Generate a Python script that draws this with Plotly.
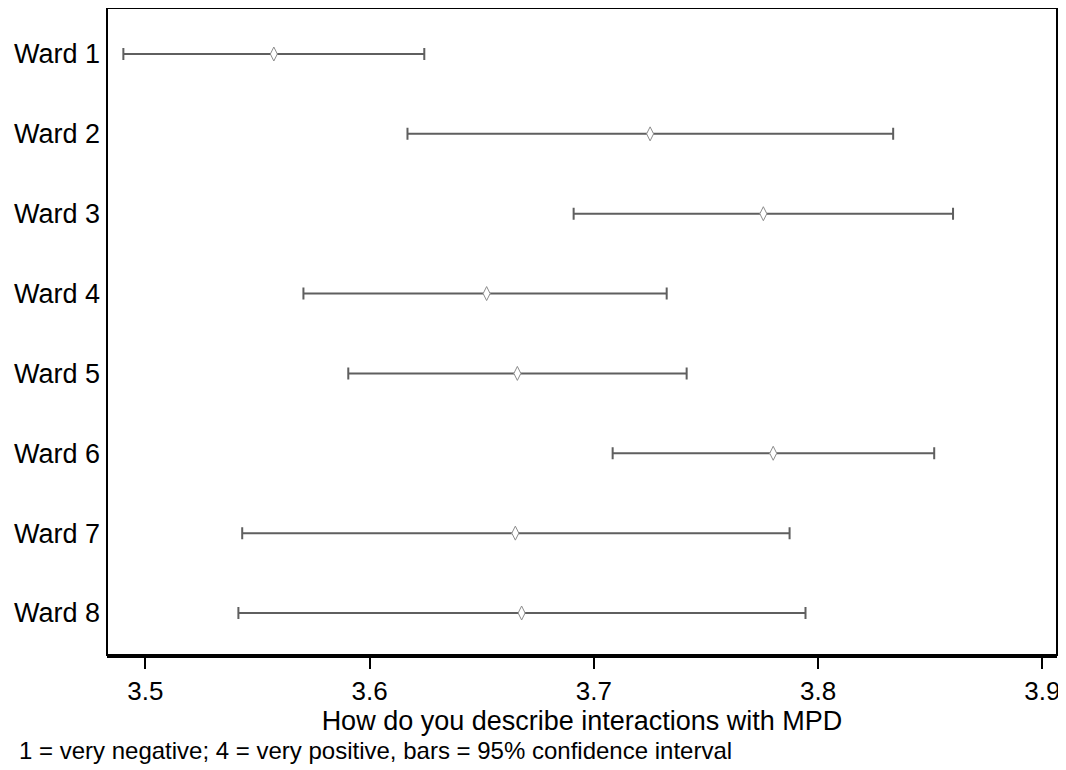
import plotly.graph_objects as go

wards = ["Ward 1", "Ward 2", "Ward 3", "Ward 4", "Ward 5", "Ward 6", "Ward 7", "Ward 8"]
means = [3.5573, 3.7251, 3.7756, 3.6522, 3.6659, 3.7800, 3.6650, 3.6678]
lower = [3.4902, 3.6169, 3.6910, 3.5705, 3.5905, 3.7084, 3.5432, 3.5415]
upper = [3.6244, 3.8335, 3.8602, 3.7325, 3.7414, 3.8518, 3.7873, 3.7944]
x_ticks = [3.5, 3.6, 3.7, 3.8, 3.9]
x_title = "How do you describe interactions with MPD"
note = "1 = very negative; 4 = very positive, bars = 95% confidence interval"

ypos = list(range(1, len(wards) + 1))
err_plus = [u - m for u, m in zip(upper, means)]
err_minus = [m - l for m, l in zip(means, lower)]

FONT = "Liberation Sans, Arial, sans-serif"

fig = go.Figure()
fig.add_trace(go.Scatter(
    x=means, y=ypos, mode="markers",
    marker=dict(symbol="diamond-tall", size=10, color="white",
                line=dict(color="#8c8c8c", width=1)),
    error_x=dict(type="data", symmetric=False, array=err_plus, arrayminus=err_minus,
                 color="#5f5f5f", thickness=2, width=6),
    showlegend=False, hoverinfo="skip",
))

# page body has an 8px default margin, so the figure is sized to fit the window
fig.update_layout(
    width=1058, height=762,
    margin=dict(l=99, r=9, t=0, b=115),
    paper_bgcolor="white", plot_bgcolor="white",
    font=dict(family=FONT, color="black"),
    xaxis=dict(
        range=[3.4829, 3.90656], tickvals=x_ticks,
        ticktext=[f"{v:.1f}" for v in x_ticks],
        ticks="outside", ticklen=11, tickwidth=2, tickcolor="black",
        tickfont=dict(size=26), showgrid=False, zeroline=False,
        showline=True, linecolor="black", linewidth=3,
        title=dict(text=x_title, font=dict(size=27), standoff=2),
    ),
    yaxis=dict(
        range=[8.526, 0.424], tickvals=ypos, ticktext=wards,
        ticks="", tickfont=dict(size=27), showgrid=False, zeroline=False,
        showline=False, ticklabelstandoff=6,
    ),
    shapes=[dict(type="rect", xref="paper", yref="paper", x0=0, x1=1, y0=0, y1=1,
                 line=dict(color="black", width=2), fillcolor="rgba(0,0,0,0)")],
    annotations=[dict(text=note, xref="paper", yref="paper", x=-0.0947, y=-0.148,
                      xanchor="left", yanchor="middle", showarrow=False,
                      font=dict(size=24, color="black"))],
)

fig.write_html("out.html")
